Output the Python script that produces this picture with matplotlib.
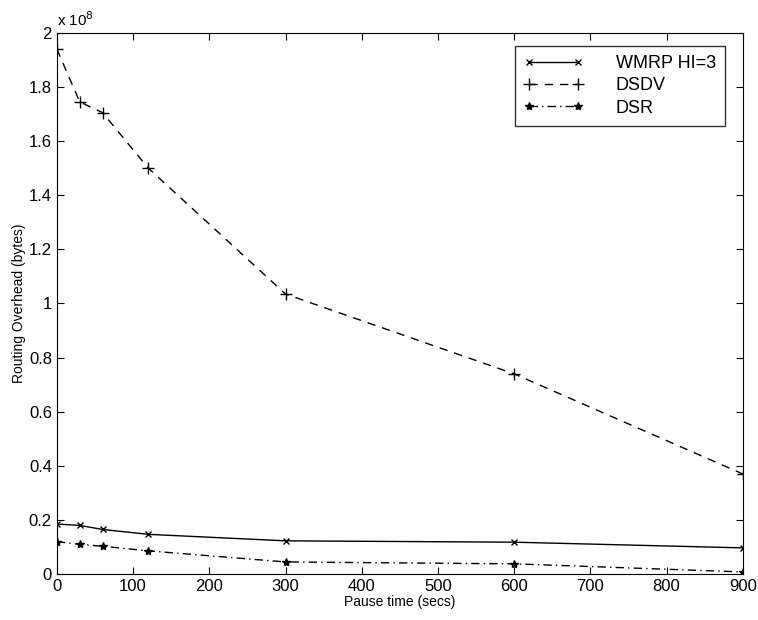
import numpy as np
import matplotlib
matplotlib.use("Agg")
import matplotlib.pyplot as plt
from matplotlib.ticker import FuncFormatter

plt.rcParams["font.family"] = ["Liberation Sans", "DejaVu Sans"]

# pause times (secs)
pause = [0, 30, 60, 120, 300, 600, 900]

# routing overhead (bytes)
wmrp = [0.185e8, 0.180e8, 0.165e8, 0.147e8, 0.123e8, 0.118e8, 0.097e8]
dsdv = [1.94e8, 1.745e8, 1.705e8, 1.50e8, 1.035e8, 0.74e8, 0.37e8]
dsr  = [0.120e8, 0.110e8, 0.103e8, 0.086e8, 0.045e8, 0.038e8, 0.008e8]

fig = plt.figure(figsize=(7.58, 6.2), dpi=100)
ax = fig.add_axes([0.075, 0.074, 0.905, 0.873])

ax.plot(pause, wmrp, "k-", marker="x", ms=5, lw=1, label="WMRP HI=3")
ax.plot(pause, dsdv, "k", ls=(0, (6, 5)), marker="+", ms=8, lw=1, label="DSDV")
ax.plot(pause, dsr, "k", ls=(0, (6, 3, 1, 3)), marker="*", ms=6, lw=1, label="DSR")

ax.set_xlim(0, 900)
ax.set_ylim(0, 2e8)
ax.set_xticks(np.arange(0, 901, 100))
ax.set_yticks(np.arange(0, 2.01e8, 0.2e8))
ax.yaxis.set_major_formatter(FuncFormatter(lambda v, p: f"{v / 1e8:g}"))
ax.tick_params(direction="in", top=True, right=True, labelsize=12, length=5)
ax.text(0.0, 1.008, r"x 10$^8$", transform=ax.transAxes, fontsize=11,
        ha="left", va="bottom")

ax.set_xlabel("Pause time (secs)", fontsize=10, labelpad=1)
ax.set_ylabel("Routing Overhead (bytes)", fontsize=10, labelpad=2)

leg = ax.legend(loc="upper right", bbox_to_anchor=(0.974, 0.976), fontsize=13,
                fancybox=False, edgecolor="black", handlelength=3.3,
                handletextpad=1.8, labelspacing=0.3, borderpad=0.5,
                borderaxespad=0, numpoints=2)
leg.get_frame().set_linewidth(1)

fig.savefig("out.png", dpi=100)
